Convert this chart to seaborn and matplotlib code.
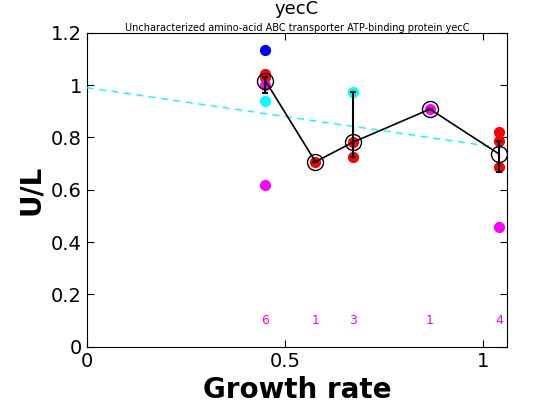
import numpy as np
import pandas as pd
import matplotlib
matplotlib.use("Agg")
import matplotlib.pyplot as plt
import seaborn as sns

# cluster positions (growth rate) and summary values
growth = [0.451, 0.577, 0.671, 0.866, 1.041]
medians = [1.016, 0.707, 0.781, 0.908, 0.736]
err_lo = [0.968, 0.707, 0.725, 0.908, 0.668]
err_hi = [1.032, 0.707, 0.972, 0.908, 0.786]
counts = [6, 1, 3, 1, 4]

# individual replicate points
pt_x = [0.451]*6 + [0.577] + [0.671]*3 + [0.866] + [1.041]*4
pt_y = [1.134, 1.042, 1.032, 0.939, 0.618, 1.0,
        0.707,
        0.972, 0.781, 0.725,
        0.908,
        0.822, 0.786, 0.686, 0.459]
pt_c = ['blue', 'red', 'red', 'cyan', 'magenta', 'magenta',
        'red',
        'cyan', 'red', 'red',
        'magenta',
        'red', 'red', 'red', 'magenta']

# linear trend (cyan dashed)
trend_x = [0, 1.06]
trend_b = 0.99
trend_m = -0.22

sns.set_style("white")
plt.rcParams['font.family'] = ['DejaVu Sans']
plt.rcParams['text.color'] = 'black'
plt.rcParams['axes.labelcolor'] = 'black'

fig = plt.figure(figsize=(5.6, 4.2), dpi=100)
ax = fig.add_axes([0.155, 0.1745, 0.75, 0.7475])

pts = pd.DataFrame({'x': pt_x, 'y': pt_y, 'c': pt_c})
for col in ['blue', 'cyan', 'red', 'magenta']:
    sub = pts[pts.c == col]
    sns.scatterplot(data=sub, x='x', y='y', color=col, s=65, edgecolor=col,
                    linewidth=0, ax=ax, zorder=2)

tr = pd.DataFrame({'x': trend_x, 'y': [trend_b + trend_m*v for v in trend_x]})
sns.lineplot(data=tr, x='x', y='y', color='cyan', linestyle=(0, (5, 4)),
             linewidth=1, ax=ax, zorder=3)

med = pd.DataFrame({'x': growth, 'y': medians})
sns.lineplot(data=med, x='x', y='y', color='black', linewidth=1.2, ax=ax,
             marker='o', markersize=11.5, markerfacecolor='none',
             markeredgecolor='black', markeredgewidth=1.0, zorder=4)

lo = np.array(medians) - np.array(err_lo)
hi = np.array(err_hi) - np.array(medians)
ax.errorbar(growth, medians, yerr=[lo, hi], fmt='none', ecolor='black',
            elinewidth=1.5, capsize=2.5, capthick=1.5, zorder=5)

for gx, n in zip(growth, counts):
    ax.text(gx, 0.1, str(n), color='magenta', fontsize=9, ha='center', va='center')

ax.set_xlim(0, 1.06)
ax.set_ylim(0, 1.2)
ax.set_xticks([0, 0.5, 1])
ax.set_xticklabels(['0', '0.5', '1'])
ax.set_yticks([0, 0.2, 0.4, 0.6, 0.8, 1.0, 1.2])
ax.set_yticklabels(['0', '0.2', '0.4', '0.6', '0.8', '1', '1.2'])
ax.tick_params(direction='in', length=5, width=0.8, labelsize=14,
               top=True, right=True, bottom=True, left=True,
               colors='black', labelcolor='black')
for s in ax.spines.values():
    s.set_color('black')
    s.set_linewidth(0.8)

ax.set_xlabel('Growth rate', fontsize=20, fontweight='bold', color='black')
ax.set_ylabel('U/L', fontsize=20, fontweight='bold', color='black')
fig.text(0.53, 0.999, 'yecC', fontsize=13, ha='center', va='top', color='black')
ax.set_title('Uncharacterized amino-acid ABC transporter ATP-binding protein yecC',
             fontsize=7, pad=1.5, color='black')

fig.savefig('out.png', dpi=100)
